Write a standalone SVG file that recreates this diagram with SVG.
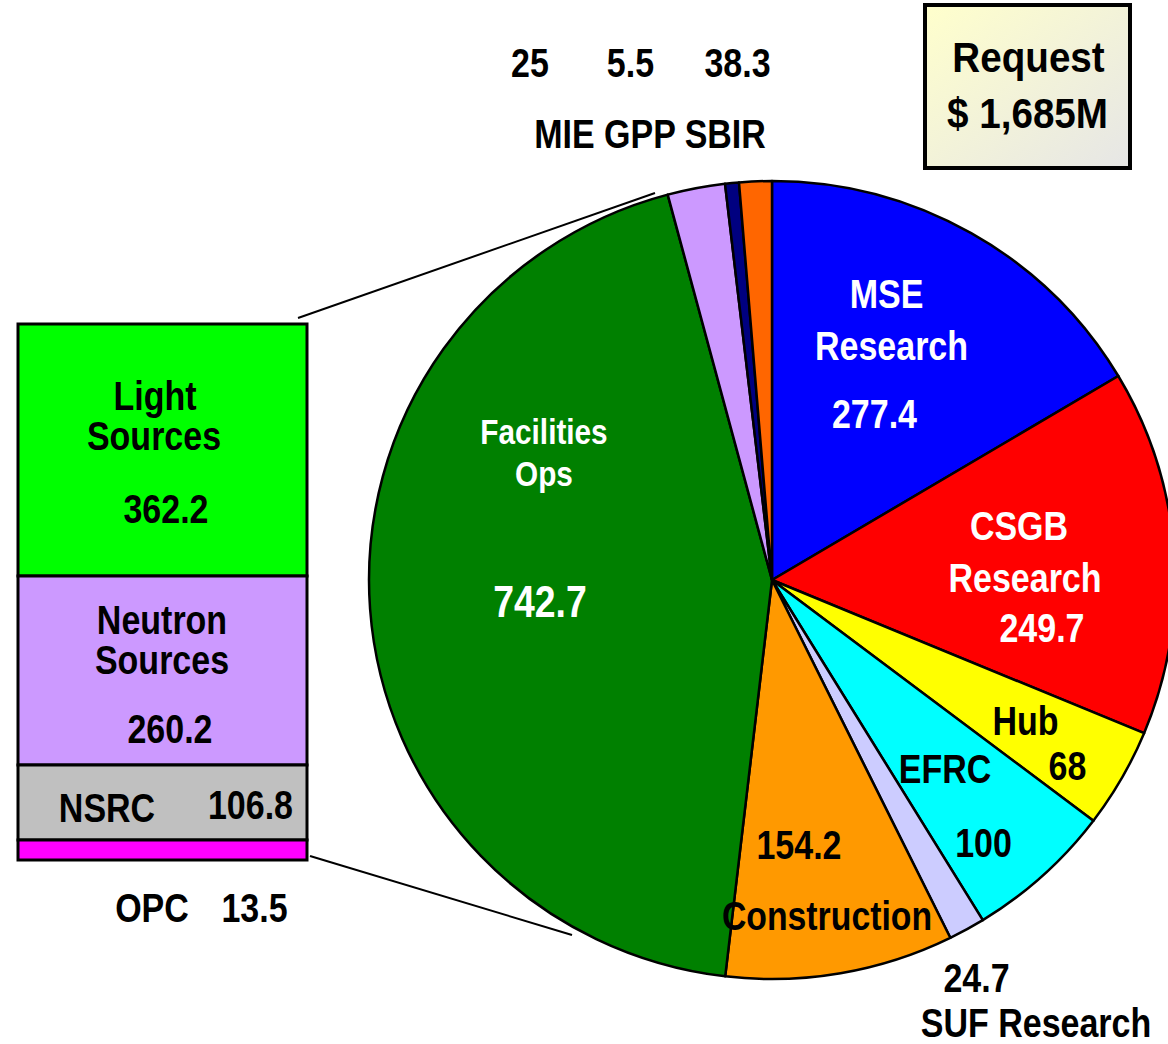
<svg xmlns="http://www.w3.org/2000/svg" width="1168" height="1044" viewBox="0 0 1168 1044">
<defs>
<linearGradient id="reqg" x1="0" y1="0" x2="1" y2="1">
<stop offset="0" stop-color="#FFFFCC"/>
<stop offset="1" stop-color="#E6E6E6"/>
</linearGradient>
<style>
.sl{stroke:#000;stroke-width:2.5;stroke-linejoin:round}
.t{font-family:"Liberation Sans",Arial,sans-serif;font-weight:bold;font-size:40px;text-anchor:middle}
.w{fill:#fff}
.k{fill:#000}
.box{stroke:#000;stroke-width:3}
.ln{stroke:#000;stroke-width:2;fill:none}
</style>
</defs>
<rect width="1168" height="1044" fill="#fff"/>

<g id="connectors">
<line class="ln" x1="298" y1="318" x2="655" y2="193"/>
<line class="ln" x1="310" y1="856" x2="572" y2="935"/>
</g>

<g id="pie">
<g id="slice-mse"><path class="sl" fill="#0000FF" d="M772,580 L772,181 A403,399 0 0 1 1118.3,376 Z"/></g>
<g id="slice-csgb"><path class="sl" fill="#FF0000" d="M772,580 L1118.3,376 A403,399 0 0 1 1144.1,733.2 Z"/></g>
<g id="slice-hub"><path class="sl" fill="#FFFF00" d="M772,580 L1144.1,733.2 A403,399 0 0 1 1093.4,820.7 Z"/></g>
<g id="slice-efrc"><path class="sl" fill="#00FFFF" d="M772,580 L1093.4,820.7 A403,399 0 0 1 982.8,920.1 Z"/></g>
<g id="slice-suf"><path class="sl" fill="#CCCCFF" d="M772,580 L982.8,920.1 A403,399 0 0 1 950.3,937.8 Z"/></g>
<g id="slice-construction"><path class="sl" fill="#FF9900" d="M772,580 L950.3,937.8 A403,399 0 0 1 725.2,976.3 Z"/></g>
<g id="slice-facilities"><path class="sl" fill="#008000" d="M772,580 L725.2,976.3 A403,399 0 0 1 667.7,194.6 Z"/></g>
<g id="slice-mie"><path class="sl" fill="#CC99FF" d="M772,580 L667.7,194.6 A403,399 0 0 1 725,183.7 Z"/></g>
<g id="slice-gpp"><path class="sl" fill="#000080" d="M772,580 L725,183.7 A403,399 0 0 1 739,182.4 Z"/></g>
<g id="slice-sbir"><path class="sl" fill="#FF6600" d="M772,580 L739,182.4 A403,399 0 0 1 772,181 Z"/></g>
</g>

<g id="breakdown">
<g id="light-sources"><rect class="box" x="18" y="324" width="289" height="252" fill="#00FF00"/></g>
<g id="neutron-sources"><rect class="box" x="18" y="576" width="289" height="189" fill="#CC99FF"/></g>
<g id="nsrc"><rect class="box" x="18" y="765" width="289" height="75" fill="#C0C0C0"/></g>
<g id="opc"><rect class="box" x="18" y="840" width="289" height="20" fill="#FF00FF"/></g>
</g>

<g id="request">
<rect x="925" y="5" width="205" height="163" fill="url(#reqg)" stroke="#000" stroke-width="4"/>
<text class="t k" style="font-size:42px" transform="translate(1028.5,72) scale(0.92,1)">Request</text>
<text class="t k" style="font-size:42px" transform="translate(1027.5,128) scale(0.92,1)">$ 1,685M</text>
</g>

<g id="labels">
<text class="t k" transform="translate(530,77) scale(0.85,1)">25</text>
<text class="t k" transform="translate(630.5,77) scale(0.85,1)">5.5</text>
<text class="t k" transform="translate(737.5,77) scale(0.85,1)">38.3</text>
<text class="t k" transform="translate(650,148) scale(0.85,1)">MIE GPP SBIR</text>

<text class="t w" transform="translate(886.5,308) scale(0.85,1)">MSE</text>
<text class="t w" transform="translate(891.5,360) scale(0.85,1)">Research</text>
<text class="t w" transform="translate(874.5,428) scale(0.85,1)">277.4</text>

<text class="t w" style="font-size:35px" transform="translate(544,444) scale(0.85,1)">Facilities</text>
<text class="t w" style="font-size:35px" transform="translate(544,486) scale(0.85,1)">Ops</text>
<text class="t w" style="font-size:44px" transform="translate(540,617) scale(0.85,1)">742.7</text>

<text class="t w" transform="translate(1019,540) scale(0.85,1)">CSGB</text>
<text class="t w" transform="translate(1025,592) scale(0.85,1)">Research</text>
<text class="t w" transform="translate(1042,642) scale(0.85,1)">249.7</text>

<text class="t k" transform="translate(1025.5,735) scale(0.85,1)">Hub</text>
<text class="t k" transform="translate(1067.5,780) scale(0.85,1)">68</text>
<text class="t k" transform="translate(945,783) scale(0.85,1)">EFRC</text>
<text class="t k" transform="translate(983.5,857) scale(0.85,1)">100</text>

<text class="t k" transform="translate(799,859) scale(0.85,1)">154.2</text>
<text class="t k" transform="translate(827,930) scale(0.845,1)">Construction</text>

<text class="t k" transform="translate(976.5,992) scale(0.85,1)">24.7</text>
<text class="t k" transform="translate(1036,1037) scale(0.85,1)">SUF Research</text>

<text class="t k" transform="translate(155,410) scale(0.85,1)">Light</text>
<text class="t k" transform="translate(154,450) scale(0.85,1)">Sources</text>
<text class="t k" transform="translate(166,523) scale(0.85,1)">362.2</text>
<text class="t k" transform="translate(162,634) scale(0.85,1)">Neutron</text>
<text class="t k" transform="translate(162,674) scale(0.85,1)">Sources</text>
<text class="t k" transform="translate(170,743) scale(0.85,1)">260.2</text>
<text class="t k" transform="translate(107,822) scale(0.85,1)">NSRC</text>
<text class="t k" transform="translate(250.5,819) scale(0.85,1)">106.8</text>
<text class="t k" transform="translate(152,922) scale(0.85,1)">OPC</text>
<text class="t k" transform="translate(254.5,922) scale(0.85,1)">13.5</text>
</g>
</svg>
